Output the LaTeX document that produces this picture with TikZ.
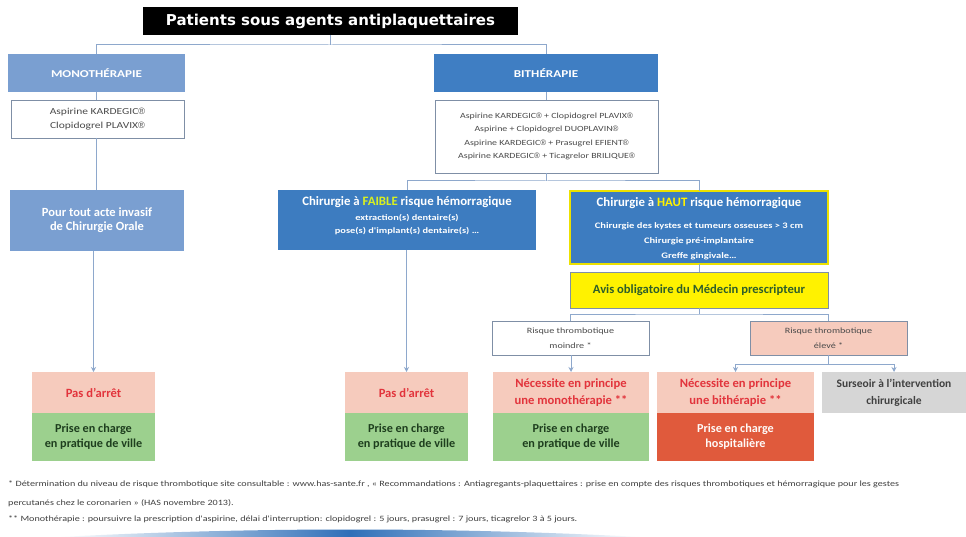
\documentclass[tikz,border=0pt]{standalone}
\usepackage{fontspec}
\setmainfont{Carlito}
\newfontfamily\widefont[FakeStretch=1.25]{Carlito}
\newfontfamily\titlefont{DejaVu Sans}
\newfontfamily\regfont{Liberation Sans}
\newcommand{\rg}{{\regfont ®}}
\usetikzlibrary{arrows.meta,calc}
\definecolor{monoblue}{HTML}{7A9FD1}
\definecolor{bithblue}{HTML}{3F7EC3}
\definecolor{chirblue}{HTML}{3D7CC0}
\definecolor{pinkf}{HTML}{F6CBBD}
\definecolor{greenf}{HTML}{9CD08E}
\definecolor{redf}{HTML}{E05A3C}
\definecolor{grayf}{HTML}{D6D6D6}
\definecolor{redtxt}{HTML}{E2343C}
\definecolor{greentxt}{HTML}{1E3E1E}
\definecolor{linec}{HTML}{8EA8CC}
\definecolor{bordc}{HTML}{7F8FA6}
\definecolor{yelw}{HTML}{FFF200}
\definecolor{faibley}{HTML}{D9F020}
\definecolor{avistxt}{HTML}{2E5E2A}
\definecolor{drugtxt}{HTML}{4A4A4A}
\definecolor{swoosh}{HTML}{2F6FB8}
\begin{document}
\begin{tikzpicture}[x=1pt,y=-1pt,
  base/.style={anchor=north west, inner sep=0pt, outer sep=0pt, align=center},
  hdr/.style={base, text=white, font=\widefont\bfseries\fontsize{10.5}{12}\selectfont},
  drug/.style={base, draw=bordc, line width=0.8pt, fill=white, text=drugtxt},
  chir/.style={base, fill=chirblue},
  ttl/.style={text=white, font=\bfseries\fontsize{12.8}{14}\selectfont, inner sep=0pt},
  sub/.style={text=white, font=\widefont\bfseries\fontsize{8.3}{13}\selectfont, inner sep=0pt, align=center},
  pinkbox/.style={base, fill=pinkf, minimum height=41, text=redtxt, font=\bfseries\fontsize{12.6}{17}\selectfont},
  greenbox/.style={base, fill=greenf, minimum height=48, text=greentxt, font=\bfseries\fontsize{12.2}{15}\selectfont},
  risk/.style={base, draw=bordc, line width=0.8pt, minimum width=157, minimum height=34, text=drugtxt, font=\widefont\fontsize{8.1}{15}\selectfont},
  conn/.style={draw=linec, line width=1pt},
  arr/.style={conn, -{Stealth[length=5pt,width=5pt]}},
  foot/.style={anchor=west, inner sep=0pt, text=black!75, font=\widefont\fontsize{8.1}{9}\selectfont}
]
\useasboundingbox (0,0) rectangle (966,537);
\fill[white] (0,0) rectangle (966,537);

% title
\node[base, fill=black, minimum width=375, minimum height=28, text=white,
  font=\titlefont\bfseries\fontsize{15}{17}\selectfont] (title) at (143,7) {Patients sous agents antiplaquettaires};

% level 1
\node[hdr, fill=monoblue, minimum width=177, minimum height=38] (mono) at (8,54) {MONOTHÉRAPIE};
\node[hdr, fill=bithblue, minimum width=224, minimum height=38] (bith) at (434,54) {BITHÉRAPIE};

\node[drug, minimum width=173, minimum height=38, font=\widefont\fontsize{9.2}{14}\selectfont] (monodrug) at (11,100)
  {Aspirine KARDEGIC\rg\\Clopidogrel PLAVIX\rg};
\node[drug, minimum width=223, minimum height=73, font=\widefont\fontsize{7.9}{13.6}\selectfont] (bithdrug) at (435,100)
  {Aspirine KARDEGIC\rg{} + Clopidogrel PLAVIX\rg\\Aspirine + Clopidogrel DUOPLAVIN\rg\\Aspirine KARDEGIC\rg{} + Prasugrel EFIENT\rg\\Aspirine KARDEGIC\rg{} + Ticagrelor BRILIQUE\rg};

% level 2
\node[base, fill=monoblue, minimum width=174, minimum height=61, text=white,
  font=\bfseries\fontsize{12.5}{14}\selectfont] (pour) at (10,190) {Pour tout acte invasif\\de Chirurgie Orale};

\node[chir, minimum width=258, minimum height=60] (faible) at (278,190) {};
\node[ttl] (faibleT) at ($(faible.north)+(0,12)$) {Chirurgie à \textcolor{faibley}{FAIBLE} risque hémorragique};
\node[sub] (faibleS) at ($(faible.north)+(0,34.5)$) {extraction(s) dentaire(s)\\pose(s) d'implant(s) dentaire(s) \dots};

\node[chir, draw=yelw!85!olive, line width=1.2pt, minimum width=258, minimum height=73] (haut) at (570,191) {};
\node[ttl] (hautT) at ($(haut.north)+(0,12)$) {Chirurgie à \textcolor{yelw}{HAUT} risque hémorragique};
\node[sub, font=\widefont\bfseries\fontsize{8.4}{15}\selectfont] (hautS) at ($(haut.north)+(0,50)$)
  {Chirurgie des kystes et tumeurs osseuses > 3 cm\\Chirurgie pré-implantaire\\Greffe gingivale\dots};

\node[base, fill=yelw, draw=bordc, line width=0.8pt, minimum width=258, minimum height=36, text=avistxt,
  font=\bfseries\fontsize{12.6}{14}\selectfont] (avis) at (570,272) {Avis obligatoire du Médecin prescripteur};

\node[risk, fill=white] (moindre) at (492,321) {Risque thrombotique\\moindre *};
\node[risk, fill=pinkf] (eleve) at (750,321) {Risque thrombotique\\élevé *};

% bottom boxes
\node[pinkbox, minimum width=123] (Ap) at (32,372) {Pas d'arrêt};
\node[greenbox, minimum width=123] (Ag) at (32,413) {Prise en charge\\en pratique de ville};
\node[pinkbox, minimum width=123] (Bp) at (345,372) {Pas d'arrêt};
\node[greenbox, minimum width=123] (Bg) at (345,413) {Prise en charge\\en pratique de ville};
\node[pinkbox, minimum width=156] (Cp) at (493,372) {Nécessite en principe\\une monothérapie **};
\node[greenbox, minimum width=156] (Cg) at (493,413) {Prise en charge\\en pratique de ville};
\node[pinkbox, minimum width=157] (Dp) at (657,372) {Nécessite en principe\\une bithérapie **};
\node[greenbox, fill=redf, text=white!90!pinkf, minimum width=157] (Dg) at (657,413) {Prise en charge\\hospitalière};
\node[pinkbox, fill=grayf, text=black!75, minimum width=144, font=\bfseries\fontsize{11.5}{17}\selectfont] (Ep) at (822,372) {Surseoir à l'intervention\\chirurgicale};

% connectors
\coordinate (tb) at ($(title.south)+(0,10)$);
\draw[conn] (title.south) -- (tb);
\draw[conn] (mono.north) |- (tb) -| (bith.north);
\draw[conn] (mono.south) -- (mono.south |- monodrug.north);
\draw[conn] (monodrug.south -| mono.south) -- (mono.south |- pour.north);
\draw[conn] (bith.south) -- (bith.south |- bithdrug.north);
\coordinate (b2) at ($(bithdrug.south)+(0,8)$);
\draw[conn] (bithdrug.south) -- (b2);
\draw[conn] (faible.north) |- (b2) -| (haut.north);
\draw[conn] (haut.south) -- (haut.south |- avis.north);
\coordinate (b3) at ($(avis.south)+(0,6)$);
\draw[conn] (avis.south) -- (b3);
\draw[conn] (moindre.north) |- (b3) -| (eleve.north);
\draw[arr] (pour.south -| Ap.north) -- (Ap.north);
\draw[arr] (faible.south -| Bp.north) -- (Bp.north);
\draw[arr] (moindre.south -| Cp.north) -- (Cp.north);
\coordinate (b4) at ($(eleve.south)+(0,9)$);
\draw[conn] (eleve.south) -- (b4);
\draw[arr] (b4) -| (Dp.north);
\draw[arr] (b4) -| (Ep.north);

% footnotes
\node[foot] (f1) at (8,484) {* Détermination du niveau de risque thrombotique site consultable : www.has-sante.fr , « Recommandations : Antiagregants-plaquettaires : prise en compte des risques thrombotiques et hémorragique pour les gestes};
\node[foot] (f2) at (8,503) {percutanés chez le coronarien » (HAS novembre 2013).};
\node[foot] (f3) at (8,519) {** Monothérapie : poursuivre la prescription d'aspirine, délai d'interruption: clopidogrel : 5 jours, prasugrel : 7 jours, ticagrelor 3 à 5 jours.};

% decorative swoosh
\shade[left color=white, right color=white, middle color=swoosh] (60,537) .. controls (250,527) and (450,527) .. (640,537) -- cycle;
\end{tikzpicture}
\end{document}
